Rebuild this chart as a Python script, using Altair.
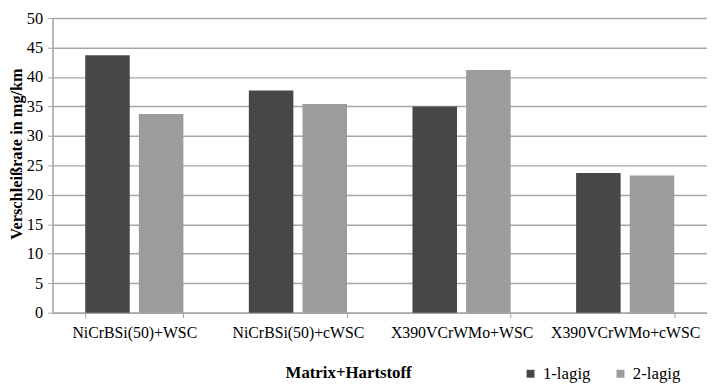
import altair as alt
import pandas as pd

categories = ["NiCrBSi(50)+WSC", "NiCrBSi(50)+cWSC", "X390VCrWMo+WSC", "X390VCrWMo+cWSC"]
series = ["1-lagig", "2-lagig"]
vals_1 = [43.7, 37.7, 35.0, 23.7]
vals_2 = [33.7, 35.4, 41.2, 23.3]
colors = ["#474747", "#9c9c9c"]

rows = []
for c, a, b in zip(categories, vals_1, vals_2):
    rows.append({"Kategorie": c, "Serie": series[0], "Wert": a})
    rows.append({"Kategorie": c, "Serie": series[1], "Wert": b})
df = pd.DataFrame(rows)

font = "Liberation Serif"
grid = "#a6a6a6"

chart = alt.Chart(df).mark_bar().encode(
    x=alt.X("Kategorie:N", sort=categories,
            scale=alt.Scale(paddingInner=0.4, paddingOuter=0.2),
            axis=alt.Axis(title="Matrix+Hartstoff", labelAngle=0, labelFont=font,
                          labelFontSize=16, labelColor="black", labelPadding=7,
                          titleFont=font, titleFontSize=17, titleFontWeight="bold",
                          titleColor="black", titleX=299, titleY=66,
                          titleBaseline="alphabetic", titleAnchor="middle",
                          tickBand="extent", tickColor=grid, tickSize=5,
                          domainColor=grid, domainWidth=1.5, grid=False)),
    xOffset=alt.XOffset("Serie:N", sort=series,
                        scale=alt.Scale(paddingInner=0.17, paddingOuter=0)),
    y=alt.Y("Wert:Q", scale=alt.Scale(domain=[0, 50]),
            axis=alt.Axis(title="Verschleißrate in mg/km", values=list(range(0, 55, 5)),
                          labelFont=font, labelFontSize=16.5, labelColor="black",
                          labelPadding=5,
                          titleFont=font, titleFontSize=16.5, titleFontWeight="bold",
                          titleColor="black", titleX=-36, titleY=137,
                          titleAnchor="middle", titleAngle=-90, titleBaseline="middle",
                          tickColor=grid, tickSize=5, domainColor=grid, domainWidth=1.5,
                          gridColor=grid, gridWidth=1.5)),
    color=alt.Color("Serie:N", sort=series,
                    scale=alt.Scale(domain=series, range=colors),
                    legend=alt.Legend(title=None, orient="none", direction="horizontal",
                                      legendX=475, legendY=351, symbolType="square",
                                      symbolSize=64, symbolStrokeWidth=0,
                                      labelFont=font, labelFontSize=17,
                                      labelColor="black", columnPadding=21,
                                      labelOffset=4)),
).properties(
    width=662, height=298,
    autosize=alt.AutoSizeParams(type="none"),
    padding={"left": 45, "top": 8, "right": 0, "bottom": 75},
).configure_view(stroke=None).configure(background="white")

chart.save("out.html", embed_options={"renderer": "svg", "actions": False})
